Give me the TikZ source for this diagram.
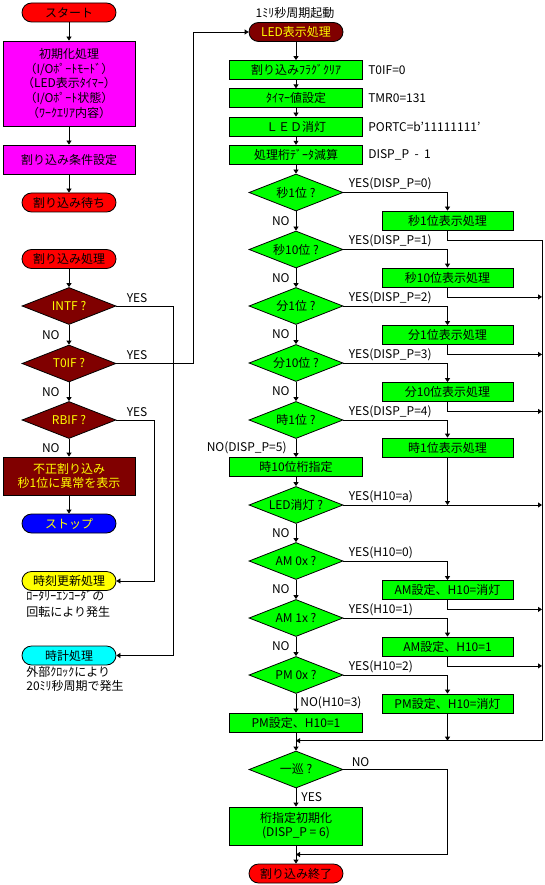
\documentclass[tikz,border=0pt]{standalone}
\usepackage{fontspec}
\setmainfont{Noto Sans CJK JP}
\usetikzlibrary{arrows.meta,calc,positioning,shapes.geometric}
\definecolor{maroonc}{RGB}{128,0,0}
\definecolor{greenc}{RGB}{0,255,0}
\definecolor{redc}{RGB}{255,0,0}
\definecolor{magc}{RGB}{255,0,255}
\definecolor{bluec}{RGB}{0,0,255}
\definecolor{yellowc}{RGB}{255,255,0}
\definecolor{cyanc}{RGB}{0,255,255}
\tikzset{
 term/.style={draw,rounded corners=9.5pt,minimum width=94pt,minimum height=19pt,inner sep=0pt},
 proc/.style={draw,fill=greenc,minimum width=133pt,minimum height=19pt,inner sep=0pt},
 subbox/.style={proc,minimum width=131pt},
 dec/.style={draw,diamond,aspect=2.54,fill=greenc,minimum width=94pt,minimum height=37pt,inner sep=0pt},
 bad/.style={fill=maroonc,text=yellowc},
 lbl/.style={inner sep=1pt},
 arr/.style={-{Triangle[length=4pt,width=5pt]}}
}
\begin{document}
\begin{tikzpicture}[x=1pt,y=-1pt,line width=.8pt,font=\fontsize{12}{14}\selectfont]
\fill[white](0,0)rectangle(544,885);
\node[term,fill=redc](start)at(69,12.5){スタート};
\node[draw,fill=magc,minimum width=132pt,minimum height=85pt,inner sep=0pt,align=center,font=\fontsize{12}{14.7}\selectfont](init)at(69,83.5){初期化処理\\（I/Oﾎﾟｰﾄﾓｰﾄﾞ）\\（LED表示ﾀｲﾏｰ）\\（I/Oﾎﾟｰﾄ状態）\\（ﾜｰｸｴﾘｱ内容）};
\node[draw,fill=magc,minimum width=132pt,minimum height=29pt](cond)at(69,159.5){割り込み条件設定};
\node[term,fill=redc](wait)at(69,202.5){割り込み待ち};
\draw[arr](start)--(init);\draw[arr](init)--(cond);\draw[arr](cond)--(wait);
\node[term,fill=redc](isr)at(69,259){割り込み処理};
\node[dec,bad](intf)at(69,306){INTF ?};
\node[dec,bad](t0if)at(69,363.5){T0IF ?};
\node[dec,bad](rbif)at(69,420){RBIF ?};
\node[draw,bad,minimum width=132pt,minimum height=38pt,inner sep=0pt,align=center](err)at(69,476){不正割り込み\\秒1位に異常を表示};
\node[term,fill=bluec,text=yellowc](stop)at(69,523.5){ストップ};
\node[term,fill=yellowc](rtc)at(69,581){時刻更新処理};
\node[lbl,anchor=north west,align=left,font=\fontsize{12}{16}\selectfont](rtcnote)at(25,589){ﾛｰﾀﾘｰｴﾝｺｰﾀﾞの\\回転により発生};
\node[term,fill=cyanc](clk)at(69,655.5){時計処理};
\node[lbl,anchor=north west,align=left](clknote)at(25,665.5){外部ｸﾛｯｸにより\\20ﾐﾘ秒周期で発生};
\draw[arr](isr)--(intf);
\draw[arr](intf)--node[lbl,left=8pt]{NO}(t0if);
\draw[arr](t0if)--node[lbl,left=8pt]{NO}(rbif);
\draw[arr](rbif)--node[lbl,left=8pt]{NO}(err);
\draw[arr](err)--(stop);
\node[lbl,above right=2pt and 9pt of intf.east]{YES};
\node[lbl,above right=2pt and 9pt of t0if.east]{YES};
\node[lbl,above right=2pt and 9pt of rbif.east]{YES};
\draw[arr](intf.east)--++(57,0)|-(clk.east);
\draw[arr](rbif.east)--++(38,0)|-(rtc.east);
\node[lbl](trig)at(295,12.7){1ﾐﾘ秒周期起動};
\node[term,bad](led)at(296,32){LED表示処理};
\draw[arr](t0if.east)--++(77,0)|-(led.west);
\node[proc](p1)at(296,70){割り込みﾌﾗｸﾞｸﾘｱ};
\node[proc](p2)at(296,98.3){ﾀｲﾏｰ値設定};
\node[proc](p3)at(296,126.5){ＬＥＤ消灯};
\node[proc](p4)at(296,154.7){処理桁ﾃﾞｰﾀ減算};
\node[lbl,right=4pt of p1]{T0IF=0};
\node[lbl,right=4pt of p2]{TMR0=131};
\node[lbl,right=4pt of p3]{PORTC=b'11111111'};
\node[lbl,right=4pt of p4]{DISP\_P\ \ -\ \ 1};
\node[dec](d1)at(296,192.5){秒1位 ?};
\node[dec](d2)at(296,249.5){秒10位 ?};
\node[dec](d3)at(296,306){分1位 ?};
\node[dec](d4)at(296,363){分10位 ?};
\node[dec](d5)at(296,420){時1位 ?};
\node[proc](h10)at(296,467){時10位桁指定};
\node[dec](d6)at(296,505){LED消灯 ?};
\node[dec](d7)at(296,561){AM 0x ?};
\node[dec](d8)at(296,618){AM 1x ?};
\node[dec](d9)at(296,675){PM 0x ?};
\node[proc](pm1)at(296,722.5){PM設定、H10=1};
\node[dec](d10)at(296,769.5){一巡 ?};
\node[proc,minimum height=38pt,align=center](init2)at(296,826){桁指定初期化\\(DISP\_P = 6)};
\node[term,fill=redc](fin)at(296,873.5){割り込み終了};
\node[subbox](b1)at(447.5,220.5){秒1位表示処理};
\node[subbox](b2)at(447.5,277.5){秒10位表示処理};
\node[subbox](b3)at(447.5,335){分1位表示処理};
\node[subbox](b4)at(447.5,392){分10位表示処理};
\node[subbox](b5)at(447.5,447.5){時1位表示処理};
\node[subbox](b7)at(447.5,590){AM設定、H10=消灯};
\node[subbox](b8)at(447.5,646.5){AM設定、H10=1};
\node[subbox](b9)at(447.5,703.5){PM設定、H10=消灯};
\foreach \a/\b in {led/p1,p1/p2,p2/p3,p3/p4,p4/d1,h10/d6,pm1/d10,init2/fin}\draw[arr](\a)--(\b);
\foreach \a/\b in {d1/d2,d2/d3,d3/d4,d4/d5,d6/d7,d7/d8,d8/d9}\draw[arr](\a)--node[lbl,left=5pt]{NO}(\b);
\draw[arr](d5)--node[lbl,left=8pt]{NO(DISP\_P=5)}(h10);
\draw[arr](d9)--node[lbl,right=3pt]{NO(H10=3)}(pm1);
\draw[arr](d10)--node[lbl,right=4pt]{YES}(init2);
\foreach \i/\v in {1/0,2/1,3/2,4/3,5/4}{
 \draw[arr](d\i.east)-|(b\i.north);
 \node[lbl,above right=1pt and 4pt of d\i.east]{YES(DISP\_P=\v)};}
\foreach \i/\v in {7/0,8/1,9/2}{
 \draw[arr](d\i.east)-|(b\i.north);
 \node[lbl,above right=1pt and 4pt of d\i.east]{YES(H10=\v)};}
\coordinate(bus)at(542,740.7);
\draw[arr](b1.south)--++(0,9.5)-|(bus)--(bus-|d10.north);
\foreach \b in {b2,b3,b4,b7,b8}\draw[arr](\b.south)--++(0,9.5)coordinate(t)--(t-|bus);
\draw[arr](b5.south)--(b5.south|-d6.east);
\draw[arr](d6.east)--(d6.east-|bus);
\node[lbl,above right=1pt and 4pt of d6.east]{YES(H10=a)};
\draw[arr](b9.south)--(b9.south|-bus);
\coordinate(jn)at($(init2.south)!.5!(fin.north)$);
\draw[arr](d10.east)--++(104,0)|-(jn);
\node[lbl,above right=1pt and 7pt of d10.east]{NO};
\end{tikzpicture}
\end{document}
